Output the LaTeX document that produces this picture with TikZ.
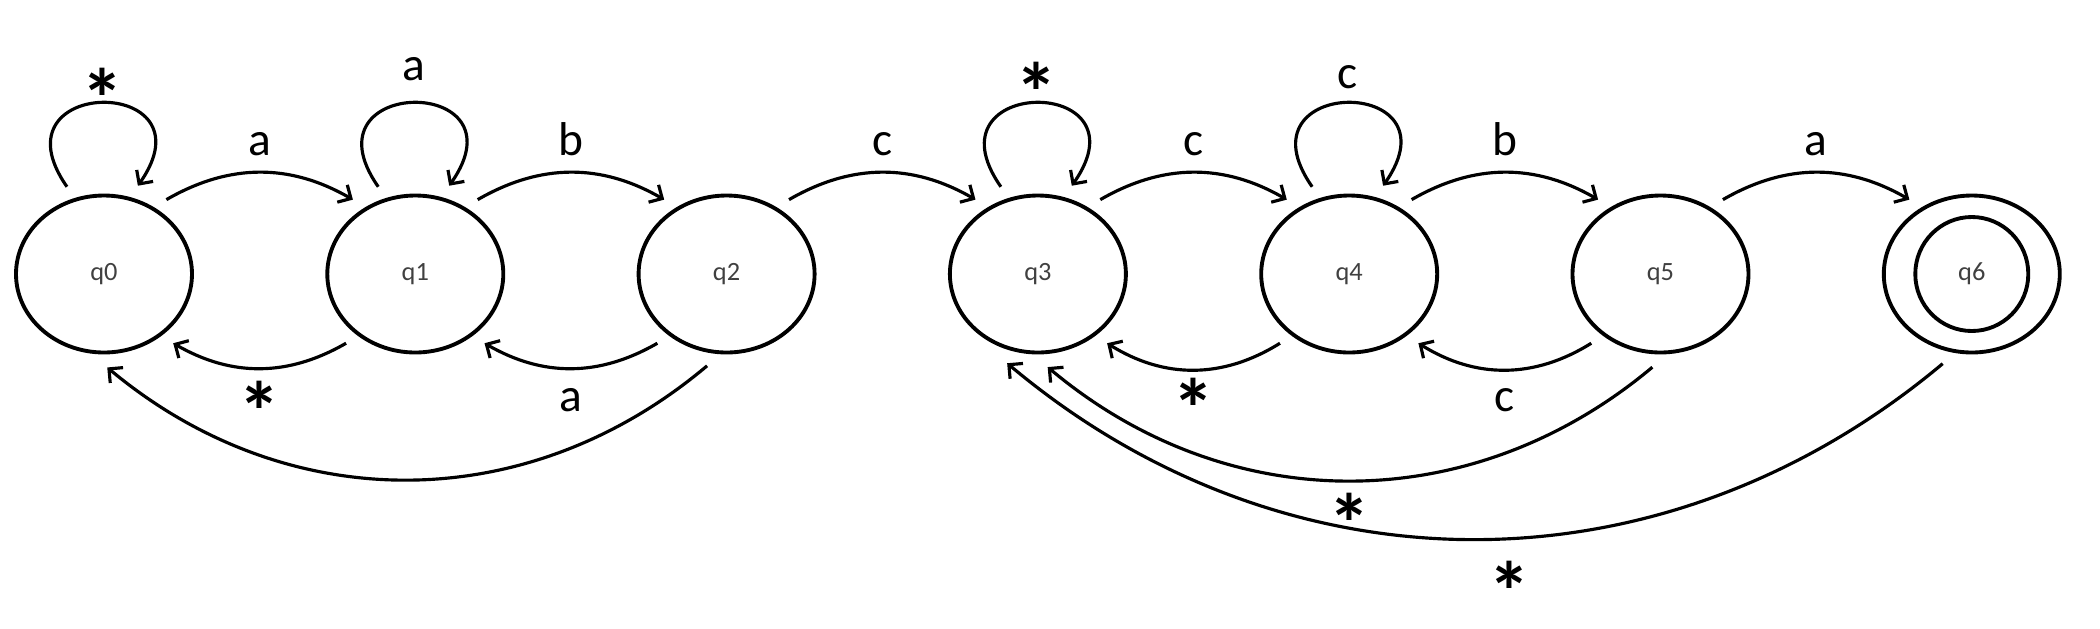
\documentclass[tikz,border=0pt]{standalone}
\usepackage{fontspec}
\setmainfont{Carlito}
\usetikzlibrary{arrows.meta, positioning, shapes.geometric}
\newcommand{\kstar}{{\fontsize{24}{24}\selectfont\bfseries\raisebox{-0.36em}[0.34em][0pt]{*}}}

\begin{document}
\begin{tikzpicture}
        [statesty/.style={ellipse,
                          inner sep=0pt,
                          minimum width=1.76cm,
                          minimum height=1.57cm,
                          outer sep=0.15cm,
                          line width=1.1pt,
                          draw=black,
                          text=black!75,
                          font=\fontsize{7.5}{8}\selectfont},
         labsty/.style={inner sep=0.15cm,
                        font=\fontsize{13.5}{16}\selectfont},
         post/.style={-{Straight Barb[length=1mm, width=2mm]}, line width=0.9pt},
         loopsty/.style={post, out=125, in=55, distance=1.36cm},
         on grid,
         node distance=3.113cm]

        \useasboundingbox (-1.04, -3.54) rectangle (19.96, 2.74);

        \node[statesty] (q0) at (0, 0) {q0};
        \node[statesty] (q1) [right=of q0] {q1};
        \node[statesty] (q2) [right=of q1] {q2};
        \node[statesty] (q3) [right=of q2] {q3};
        \node[statesty] (q4) [right=of q3] {q4};
        \node[statesty] (q5) [right=of q4] {q5};
        \node[statesty] (q6) [right=of q5] {};
        \node[statesty, minimum width=1.13cm, minimum height=1.14cm, outer sep=0pt] (q6 inner) at (q6) {q6};

        \path (q0.113) edge [loopsty] node[labsty, above, inner sep=0.03cm] {\kstar} (q0.69)
              (q1.113) edge [loopsty] node[labsty, above, inner sep=0.2cm] {a} (q1.69)
              (q3.113) edge [loopsty] node[labsty, above, inner sep=0.09cm] {\kstar} (q3.69)
              (q4.113) edge [loopsty] node[labsty, above, inner sep=0.12cm] {c} (q4.69);

        \path (q0.50) edge [post, bend left=30] node[labsty, above] {a} (q1.130)
              (q1.50) edge [post, bend left=30] node[labsty, above] {b} (q2.130)
              (q2.50) edge [post, bend left=30] node[labsty, above] {c} (q3.130)
              (q3.50) edge [post, bend left=30] node[labsty, above] {c} (q4.130)
              (q4.50) edge [post, bend left=30] node[labsty, above] {b} (q5.130)
              (q5.50) edge [post, bend left=30] node[labsty, above] {a} (q6.130);

        \path (q1.225) edge [post, bend left=30] node[labsty, below, inner sep=0.12cm] {\kstar} (q0.315)
              (q2.225) edge [post, bend left=30] node[labsty, below, inner sep=0.18cm] {a} (q1.315)
              (q4.225) edge [post, bend left=32] node[labsty, below, inner sep=0.08cm] {\kstar} (q3.315)
              (q5.225) edge [post, bend left=32] node[labsty, below, inner sep=0.17cm] {c} (q4.315);

        \path (q2.258) edge [post, bend left=40] (q0.272)
              (q5.265) edge [post, bend left=40] node[labsty, below, inner sep=0.12cm] {\kstar} (q3.276)
              (q6.252) edge [post, bend left=40] node[labsty, below, inner sep=0.22cm, pos=0.465] {\kstar} (q3.251);
\end{tikzpicture}
\end{document}
